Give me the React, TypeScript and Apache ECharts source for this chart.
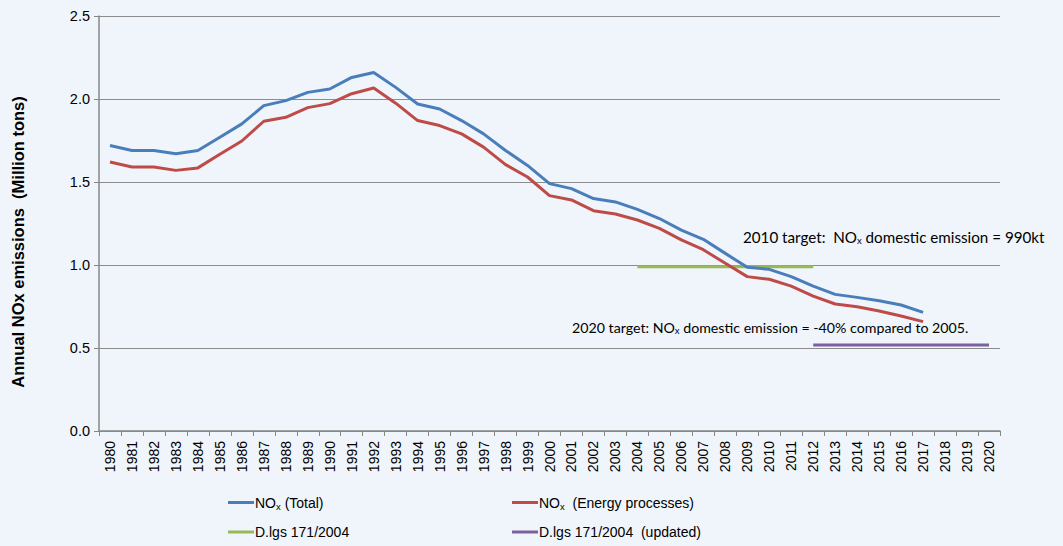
import React, { useEffect, useRef } from "react";
import * as echarts from "echarts";

const years: string[] = [];
for (let y = 1980; y <= 2020; y++) years.push(String(y));

const totalNOx: (number | null)[] = [
  1.72, 1.69, 1.69, 1.67, 1.69, 1.77, 1.85, 1.96, 1.99, 2.04,
  2.06, 2.13, 2.16, 2.07, 1.97, 1.94, 1.87, 1.79, 1.69, 1.6,
  1.49, 1.46, 1.4, 1.38, 1.335, 1.28, 1.21, 1.155, 1.07, 0.986,
  0.974, 0.93, 0.873, 0.823, 0.805, 0.785, 0.759, 0.715,
  null, null, null,
];

const energyNOx: (number | null)[] = [
  1.62, 1.59, 1.59, 1.57, 1.585, 1.667, 1.747, 1.866, 1.89, 1.948,
  1.972, 2.032, 2.066, 1.975, 1.87, 1.84, 1.79, 1.71, 1.605, 1.53,
  1.418, 1.392, 1.327, 1.307, 1.271, 1.221, 1.151, 1.092, 1.01, 0.93,
  0.914, 0.873, 0.813, 0.765, 0.749, 0.723, 0.693, 0.659,
  null, null, null,
];

const target2010: (number | null)[] = years.map((y) =>
  +y >= 2004 && +y <= 2012 ? 0.99 : null
);
const target2020: (number | null)[] = years.map((y) =>
  +y >= 2012 && +y <= 2020 ? 0.518 : null
);

const yTicks = [0, 0.5, 1.0, 1.5, 2.0, 2.5];

const legendNames = [
  "NOx (Total)",
  "NOx  (Energy processes)",
  "D.lgs 171/2004",
  "D.lgs 171/2004  (updated)",
];

const BG = "#EFF5FA";

export default function App() {
  const ref = useRef<HTMLDivElement>(null);
  useEffect(() => {
    if (!ref.current) return;
    const chart = echarts.init(ref.current, null, { renderer: "svg" });
    const legendRich = {
      a: { fontFamily: "Liberation Sans", fontSize: 14, color: "#000", lineHeight: 18, verticalAlign: "middle" },
      s: { fontFamily: "Liberation Sans", fontSize: 9.5, color: "#000", lineHeight: 10, padding: [7, 0, 0, 0], verticalAlign: "middle" },
    };
    const legendFormatter = (name: string) => {
      if (name.startsWith("NOx")) {
        return "{a|NO}{s|x}{a|" + name.slice(3) + "}";
      }
      return "{a|" + name + "}";
    };
    const mkLegend = (name: string, left: number, top: number) => ({
      data: [name],
      left,
      top,
      icon: "rect",
      itemWidth: 26,
      itemHeight: 3,
      padding: 0,
      selectedMode: false,
      formatter: legendFormatter,
      textStyle: { rich: legendRich, padding: [0, 0, 0, -4] },
    });
    const annRich = (size: number) => ({
      a: { fontFamily: "Lato", fontSize: size, color: "#000", lineHeight: 18, verticalAlign: "middle" },
      s: { fontFamily: "Lato", fontSize: 9.5, color: "#000", lineHeight: 10, padding: [7, 0, 0, 0], verticalAlign: "middle" },
    });
    chart.setOption({
      animation: false,
      backgroundColor: BG,
      grid: { left: 99, right: 63, top: 16, bottom: 115, containLabel: false },
      legend: [
        mkLegend(legendNames[0], 228, 494),
        mkLegend(legendNames[1], 512, 494),
        mkLegend(legendNames[2], 228, 525),
        mkLegend(legendNames[3], 512, 525),
      ],
      xAxis: {
        type: "category",
        data: years,
        boundaryGap: true,
        axisLine: { lineStyle: { color: "#868686", width: 1.5 } },
        axisTick: { show: true, length: 5, lineStyle: { color: "#868686" } },
        axisLabel: {
          rotate: 90,
          interval: 0,
          fontFamily: "Liberation Sans",
          fontSize: 14,
          color: "#000",
          margin: 10,
        },
      },
      yAxis: {
        type: "value",
        min: 0,
        max: 2.5,
        interval: 0.5,
        axisLine: { show: true, lineStyle: { color: "#868686", width: 1.5 } },
        axisTick: { show: true, length: 5, lineStyle: { color: "#868686" } },
        splitLine: { lineStyle: { color: "#8c8c8c", width: 1 } },
        axisLabel: {
          fontFamily: "Liberation Sans",
          fontSize: 14.5,
          color: "#000",
          margin: 9,
          formatter: (v: number) => (yTicks.includes(v) ? v.toFixed(1) : ""),
        },
      },
      series: [
        {
          name: legendNames[0],
          type: "line",
          data: totalNOx,
          showSymbol: false,
          symbol: "none",
          lineStyle: { color: "#4A7EBB", width: 3 },
          itemStyle: { color: "#4A7EBB" },
          z: 4,
        },
        {
          name: legendNames[1],
          type: "line",
          data: energyNOx,
          showSymbol: false,
          symbol: "none",
          lineStyle: { color: "#BE4B48", width: 3 },
          itemStyle: { color: "#BE4B48" },
          z: 3,
        },
        {
          name: legendNames[2],
          type: "line",
          data: target2010,
          showSymbol: false,
          symbol: "none",
          lineStyle: { color: "#98B954", width: 3 },
          itemStyle: { color: "#98B954" },
          z: 2,
        },
        {
          name: legendNames[3],
          type: "line",
          data: target2020,
          showSymbol: false,
          symbol: "none",
          lineStyle: { color: "#7D60A0", width: 3 },
          itemStyle: { color: "#7D60A0" },
          z: 2,
        },
      ],
      graphic: [
        {
          type: "text",
          x: 18,
          y: 242,
          rotation: Math.PI / 2,
          style: {
            text: "Annual NOx emissions  (Million tons)",
            fontFamily: "Liberation Sans",
            fontSize: 16.5,
            fontWeight: "bold",
            fill: "#000",
            align: "center",
            verticalAlign: "middle",
          },
        },
        {
          type: "text",
          x: 743,
          y: 237,
          style: {
            text: "{a|2010 target:  NO}{s|x}{a| domestic emission = 990kt}",
            rich: annRich(15.2),
            align: "left",
            verticalAlign: "middle",
          },
        },
        {
          type: "text",
          x: 572,
          y: 327,
          style: {
            text: "{a|2020 target: NO}{s|x}{a| domestic emission = -40% compared to 2005.}",
            rich: annRich(14.2),
            align: "left",
            verticalAlign: "middle",
          },
        },
      ],
    });
    return () => chart.dispose();
  }, []);
  return (
    <div
      ref={ref}
      style={{ width: 1063, height: 546, position: "absolute", left: 0, top: 0, background: BG }}
    />
  );
}
